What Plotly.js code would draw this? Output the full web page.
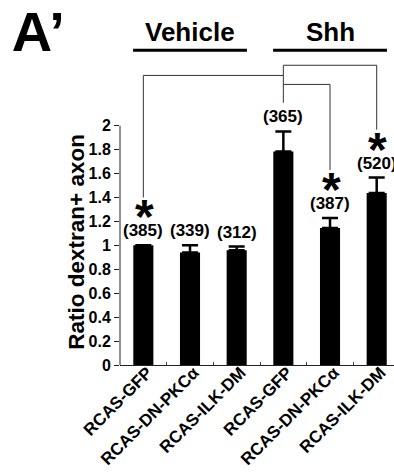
<!DOCTYPE html>
<html>
<head>
<meta charset="utf-8">
<script src="https://cdn.plot.ly/plotly-3.0.1.min.js"></script>
<style>html,body{margin:0;padding:0;background:#fff;}#chart{width:394px;height:475px;}</style>
</head>
<body>
<div id="chart"></div>
<script>
// ---- data ----
const categories = ['RCAS-GFP', 'RCAS-DN-PKC\u03b1', 'RCAS-ILK-DM', 'RCAS-GFP', 'RCAS-DN-PKC\u03b1', 'RCAS-ILK-DM'];
const ratios = [1.0, 0.94, 0.96, 1.785, 1.145, 1.437];
const sems = [0, 0.06, 0.03, 0.167, 0.084, 0.13];
const axonCounts = ['(385)', '(339)', '(312)', '(365)', '(387)', '(520)'];
const significant = [true, false, false, false, true, true];
const groupNames = ['Vehicle', 'Shh'];
const groupFirst = [0, 3];
const groupLast = [2, 5];
const refBar = 3;
const comparedBars = [0, 4, 5];
const bracketLevels = [2.42, 2.345, 2.505];
const yTicks = [0, 0.2, 0.4, 0.6, 0.8, 1, 1.2, 1.4, 1.6, 1.8, 2];
const yTitle = 'Ratio dextran+ axon';

// ---- layout constants ----
const FONT = '"Liberation Sans", Arial, sans-serif';
const xIdx = categories.map((_, i) => i);
const tops = ratios.map((v, i) => v + sems[i]);
const STAR_GAP = 0.40, LABEL_GAP = 0.24;

const annotations = [];
const shapes = [];

xIdx.forEach(i => {
  annotations.push({
    x: i, y: tops[i], xref: 'x', yref: 'y', text: axonCounts[i], showarrow: false,
    yanchor: 'bottom', yshift: 3,
    font: {family: FONT, size: 17, weight: 'bold', color: '#000'}
  });
  if (significant[i]) {
    annotations.push({
      x: i, y: tops[i], xref: 'x', yref: 'y', text: '*', showarrow: false,
      yanchor: 'bottom', yshift: 0, xshift: 1,
      font: {family: FONT, size: 48, weight: 'bold', color: '#000'}
    });
  }
});

const lineStyle = {color: '#333', width: 1};
shapes.push({type: 'line', xref: 'x', yref: 'y', x0: refBar, x1: refBar,
  y0: tops[refBar] + (significant[refBar] ? STAR_GAP : LABEL_GAP), y1: Math.max(...bracketLevels), line: lineStyle});
comparedBars.forEach((b, k) => {
  const lvl = bracketLevels[k];
  shapes.push({type: 'line', xref: 'x', yref: 'y', x0: refBar, x1: b, y0: lvl, y1: lvl, line: lineStyle});
  shapes.push({type: 'line', xref: 'x', yref: 'y', x0: b, x1: b,
    y0: tops[b] + (significant[b] ? STAR_GAP : LABEL_GAP), y1: lvl, line: lineStyle});
});

// group headers
const GROUP_Y = 2.63;
groupNames.forEach((g, k) => {
  const a = groupFirst[k], b = groupLast[k];
  annotations.push({
    x: (a + b) / 2, y: GROUP_Y, xref: 'x', yref: 'y', text: g, showarrow: false,
    yanchor: 'bottom', yshift: 1,
    font: {family: FONT, size: 26, weight: 'bold', color: '#000'}
  });
  shapes.push({type: 'line', xref: 'x', yref: 'y', x0: a - 0.22, x1: b + 0.22, y0: GROUP_Y, y1: GROUP_Y,
    line: {color: '#000', width: 3}});
});

// y axis title centred on the 0..2 span
annotations.push({
  x: 0, y: 1.03, xref: 'paper', yref: 'y', text: yTitle, showarrow: false, textangle: -90,
  xanchor: 'center', yanchor: 'middle', xshift: -43,
  font: {family: FONT, size: 22.5, weight: 'bold', color: '#000'}
});

// y axis line (0..2 only)
shapes.push({type: 'line', xref: 'paper', yref: 'y', x0: 0, x1: 0, y0: 0, y1: 2, line: {color: '#222', width: 1}});

const trace = {
  type: 'bar', x: xIdx, y: ratios, width: 0.43,
  marker: {color: '#000', line: {width: 0}},
  error_y: {type: 'data', array: sems, arrayminus: sems.map(() => 0), symmetric: false,
    color: '#000', thickness: 2.5, width: 8},
  hoverinfo: 'none'
};

const layout = {
  width: 394, height: 475,
  margin: {l: 120, r: 0, t: 0, b: 110},
  paper_bgcolor: '#fff', plot_bgcolor: 'rgba(0,0,0,0)',
  font: {family: FONT, size: 15, weight: 'bold', color: '#000'},
  showlegend: false,
  title: {text: 'A\u2019', x: 0.03, xanchor: 'left', xref: 'container', y: 0.975, yanchor: 'top', yref: 'container',
    font: {family: FONT, size: 56, weight: 'bold', color: '#000'}},
  xaxis: {
    range: [-0.5, -0.5 + 274 / 46.67], fixedrange: true,
    tickmode: 'array', tickvals: xIdx, ticktext: categories, tickangle: -45,
    ticklabelstandoff: -10, ticklabelshift: 4,
    ticks: '', showgrid: false, zeroline: false,
    showline: true, linecolor: '#222', linewidth: 1,
    tickfont: {family: FONT, size: 17, weight: 'bold', color: '#000'},
    minor: {tickmode: 'array', tickvals: [0.5, 1.5, 2.5, 3.5, 4.5], ticks: 'inside', ticklen: 3, tickcolor: '#444', tickwidth: 1, showgrid: false}
  },
  yaxis: {
    range: [0, 365 / 119.65], fixedrange: true,
    tickmode: 'array', tickvals: yTicks, ticktext: yTicks.map(String),
    ticks: 'outside', ticklen: 5, tickcolor: '#222', tickwidth: 1,
    showgrid: false, zeroline: false, showline: false,
    tickfont: {family: FONT, size: 16, weight: 'bold', color: '#000'}
  },
  annotations: annotations,
  shapes: shapes
};

Plotly.newPlot('chart', [trace], layout, {displayModeBar: false, staticPlot: true});
</script>
</body>
</html>
